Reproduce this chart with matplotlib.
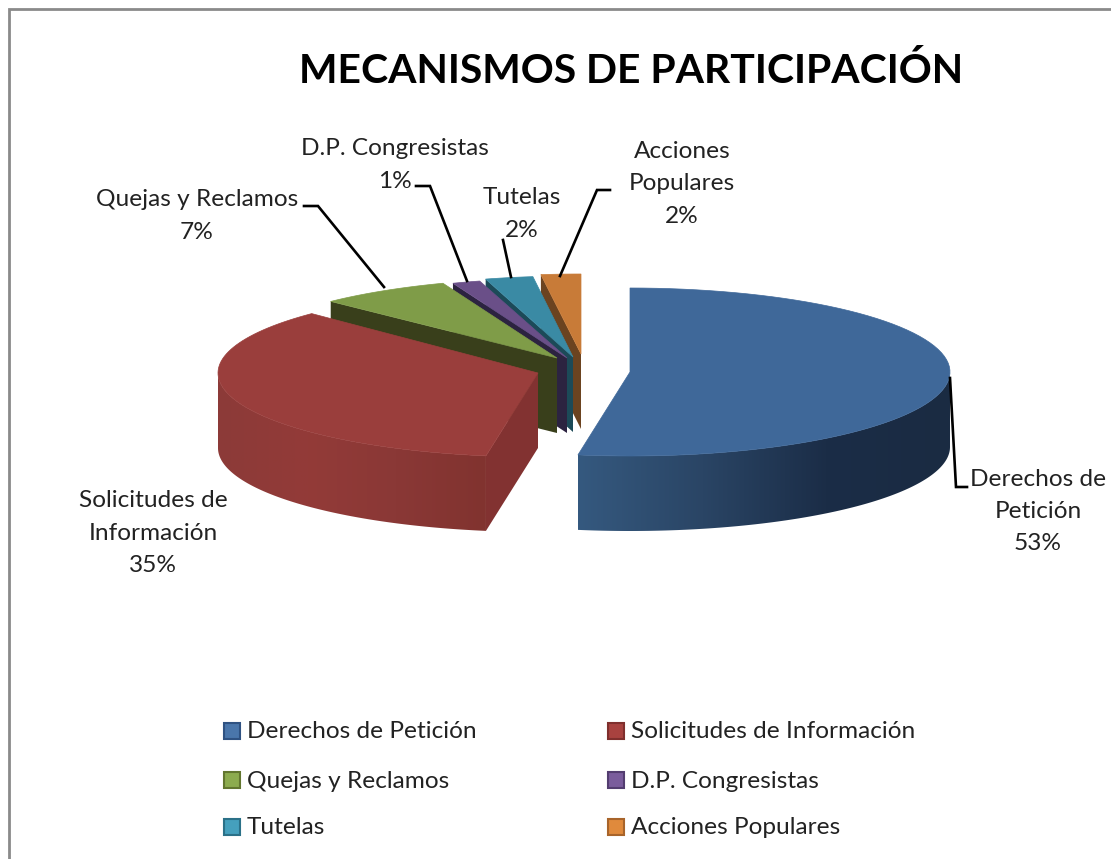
import numpy as np
from matplotlib import pyplot as plt
from matplotlib.colors import LinearSegmentedColormap
from matplotlib.patches import Polygon, Rectangle

plt.rcParams['font.family'] = ['Lato', 'DejaVu Sans']

title = "MECANISMOS DE PARTICIPACIÓN"
names = ["Derechos de Petición", "Solicitudes de Información", "Quejas y Reclamos",
         "D.P. Congresistas", "Tutelas", "Acciones Populares"]
wrapped_names = ["Derechos de\nPetición", "Solicitudes de\nInformación", "Quejas y Reclamos",
                 "D.P. Congresistas", "Tutelas", "Acciones\nPopulares"]
values = [52.6, 34.9, 6.7, 1.4, 2.4, 2.0]

# look of each slice
top_colors = ["#3f6899", "#9a3e3c", "#7f9c48", "#6a4f88", "#3a8aa4", "#c87b38"]
cut_colors = [None, "#823231", "#393f1b", "#2c2340", "#1c4a58", "#6b4320"]
wall_colors = [["#35597f", "#2a4565", "#1b2d47", "#1a2b42"],
               ["#8c3a38", "#933b38", "#8a3836", "#81332f"],
               ["#393f1b"] * 2, ["#2c2340"] * 2, ["#1c4a58"] * 2, ["#6b4320"] * 2]
legend_colors = ["#4a76ab", "#a8423f", "#8cab4e", "#7a5c9c", "#45a0bd", "#e08a3c"]
legend_edges = ["#2f5282", "#7f2f2d", "#62762f", "#533d70", "#2b7188", "#a8642a"]

# apex of each exploded slice, in pixels
apex_x = [630, 538, 557, 567, 573, 581]
apex_y = [372, 373, 358, 358, 357, 354]
rx = [320, 320, 320, 320, 320, 320]
ry = [84, 84, 80, 80, 81, 80]
depth = 75

label_xy = [(1038, 511.5), (153, 533), (197, 216), (395, 165), (522, 214), (682, 184)]
leaders = [[(950, 378), (956, 487), (967, 487)],
           [],
           [(304, 206), (318, 206), (384, 287)],
           [(416, 186), (430, 186), (467, 281)],
           [(503, 240), (511, 277)],
           [(610, 190), (597, 190), (560, 276)]]
legend_x = [224, 608]
legend_y = [731, 780, 827]

fig = plt.figure(figsize=(11.11, 8.59), dpi=100)
ax = fig.add_axes([0, 0, 1, 1])
ax.axis("off")


def arc(i, a, b, n=80):
    t = np.radians(np.linspace(a, b, n))
    return np.column_stack([apex_x[i] + rx[i] * np.sin(t), apex_y[i] - ry[i] * np.cos(t)])


def draw_wall(i, a, b):
    # outer wall is only seen on the front half of the ellipse
    a, b = max(a, 90), min(b, 270)
    if a >= b:
        return
    pts = arc(i, a, b, 160)
    shape = Polygon(np.vstack([pts, pts[::-1] + [0, depth]]), fc="none", ec="none")
    ax.add_patch(shape)
    cmap = LinearSegmentedColormap.from_list("wall", wall_colors[i])
    im = ax.imshow(np.linspace(0, 1, 256)[None, :], cmap=cmap, aspect="auto", interpolation="bilinear",
                   extent=(pts[:, 0].min(), pts[:, 0].max(), pts[:, 1].max() + depth, pts[:, 1].min()))
    im.set_clip_path(shape)


def draw_slice(i, a, b):
    apex = np.array([apex_x[i], apex_y[i]], dtype=float)
    if i >= 1:
        # cut side of the slice, facing the viewer
        p = arc(i, a, a, 1)[0]
        ax.add_patch(Polygon([apex, p, p + [0, depth], apex + [0, depth]], fc=cut_colors[i], ec="none"))
    draw_wall(i, a, b)
    ax.add_patch(Polygon(np.vstack([apex, arc(i, a, b)]), fc=top_colors[i], ec=top_colors[i], lw=0.5))


angles = np.concatenate([[0], np.cumsum(values) / sum(values) * 360])
for i in [5, 4, 3, 2, 1, 0]:
    draw_slice(i, angles[i], angles[i + 1])

ax.set_xlim(0, 1111)
ax.set_ylim(859, 0)

for i in range(len(values)):
    ax.text(label_xy[i][0], label_xy[i][1], f"{wrapped_names[i]}\n{round(values[i])}%",
            ha="center", va="center", fontsize=17.6, color="#222222", linespacing=1.65)
    if leaders[i]:
        xy = np.array(leaders[i])
        ax.plot(xy[:, 0], xy[:, 1], color="black", lw=1.9, solid_joinstyle="miter")

ax.text(631, 71, title, ha="center", va="center", fontsize=29.4, fontweight="bold", color="black")

for i in range(len(names)):
    x = legend_x[i % 2]
    y = legend_y[i // 2]
    ax.add_patch(Rectangle((x, y - 8), 16, 16, fc=legend_colors[i], ec=legend_edges[i], lw=1.5))
    ax.text(x + 23, y + 1, names[i], ha="left", va="center", fontsize=17.6, color="#222222")

# chart frame, only left and top fall inside the picture
ax.plot([9, 9, 1111], [859, 9, 9], color="#8a8a8a", lw=2, solid_joinstyle="miter")

fig.savefig("out.png", dpi=100)
